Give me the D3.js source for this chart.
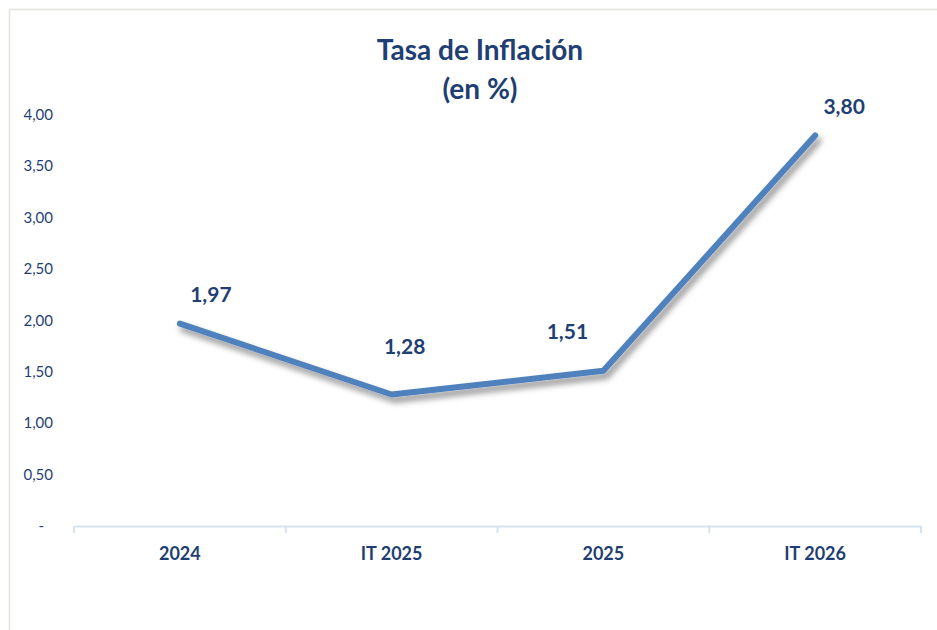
<!DOCTYPE html>
<html>
<head>
<meta charset="utf-8">
<script src="https://cdn.jsdelivr.net/npm/d3@7"></script>
<style>
  body { margin: 0; background: #fff; }
  svg { display: block; font-family: Lato, "Open Sans", sans-serif; }
</style>
</head>
<body>
<svg id="chart" width="937" height="630"></svg>
<script>
(function() {

    // data
    var categories = ["2024", "IT 2025", "2025", "IT 2026"];
    var values = [1.97, 1.28, 1.51, 3.80];
    var yTicks = [0, 0.5, 1, 1.5, 2, 2.5, 3, 3.5, 4];

    // label offsets from the point (layout only)
    var labelDx = [31, 13, -36, 29];
    var labelDy = [-22, -40, -32, -22];

    var textColor = "#1f3f73",
        lineColor = "#4f81bd";

    var svg = d3.select("#chart"),
        width = +svg.attr("width"),
        height = +svg.attr("height");

    var x = d3.scaleBand()
        .domain(categories)
        .range([74, 921]);

    var y = d3.scaleLinear()
        .domain([0, 4])
        .range([526, 115]);

    var fmt = function(v) { return v.toFixed(2).replace(".", ","); };

    // outer frame
    svg.append("rect")
        .attr("x", 9.5).attr("y", 9.5)
        .attr("width", 960).attr("height", 660)
        .attr("fill", "none")
        .attr("stroke", "#e4e4dc")
        .attr("stroke-width", 1.5);

    // shadow filter
    var f = svg.append("defs").append("filter")
        .attr("id", "shadow")
        .attr("x", "-10%").attr("y", "-10%")
        .attr("width", "130%").attr("height", "130%");
    f.append("feDropShadow")
        .attr("dx", 3).attr("dy", 5)
        .attr("stdDeviation", 3)
        .attr("flood-color", "#000")
        .attr("flood-opacity", 0.45);

    // title
    svg.append("text")
        .attr("x", 480).attr("y", 60)
        .attr("text-anchor", "middle")
        .attr("fill", textColor)
        .style("font-size", "28px")
        .style("font-weight", "bold")
        .text("Tasa de Inflación");
    svg.append("text")
        .attr("x", 480).attr("y", 99)
        .attr("text-anchor", "middle")
        .attr("fill", textColor)
        .style("font-size", "28px")
        .style("font-weight", "bold")
        .text("(en %)");

    // y axis labels (no line)
    svg.append("g").selectAll("text")
        .data(yTicks)
        .enter().append("text")
        .attr("x", function(d) { return d === 0 ? 44 : 53; })
        .attr("y", function(d) { return y(d) + 5; })
        .attr("text-anchor", "end")
        .attr("fill", textColor)
        .style("font-size", "15px")
        .text(function(d) { return d === 0 ? "-" : fmt(d); });

    // x axis
    var xAxis = d3.axisBottom(x).tickSize(0).tickFormat("");
    var gx = svg.append("g")
        .attr("transform", "translate(0," + 526 + ")")
        .call(xAxis);
    gx.select(".domain").attr("stroke", "#d6e2f0").attr("stroke-width", 2);
    gx.selectAll(".tick").remove();

    var bounds = categories.map(function(c) { return x(c); }).concat([x.range()[1]]);
    gx.selectAll("line.sep")
        .data(bounds)
        .enter().append("line")
        .attr("class", "sep")
        .attr("x1", function(d) { return d; })
        .attr("x2", function(d) { return d; })
        .attr("y1", 0).attr("y2", 7)
        .attr("stroke", "#d6e2f0")
        .attr("stroke-width", 2);

    svg.append("g").selectAll("text")
        .data(categories)
        .enter().append("text")
        .attr("x", function(d) { return x(d) + x.bandwidth() / 2; })
        .attr("y", 560)
        .attr("text-anchor", "middle")
        .attr("fill", textColor)
        .style("font-size", "18px")
        .style("font-weight", "bold")
        .text(function(d) { return d; });

    // line
    var line = d3.line()
        .x(function(d, i) { return x(categories[i]) + x.bandwidth() / 2; })
        .y(function(d) { return y(d); });

    svg.append("path")
        .datum(values)
        .attr("d", line)
        .attr("fill", "none")
        .attr("stroke", lineColor)
        .attr("stroke-width", 6)
        .attr("stroke-linecap", "round")
        .attr("stroke-linejoin", "round")
        .attr("filter", "url(#shadow)");

    // data labels
    svg.append("g").selectAll("text")
        .data(values)
        .enter().append("text")
        .attr("x", function(d, i) { return x(categories[i]) + x.bandwidth() / 2 + labelDx[i]; })
        .attr("y", function(d, i) { return y(d) + labelDy[i]; })
        .attr("text-anchor", "middle")
        .attr("fill", textColor)
        .style("font-size", "21px")
        .style("font-weight", "bold")
        .text(function(d) { return fmt(d); });
})();
</script>
</body>
</html>
